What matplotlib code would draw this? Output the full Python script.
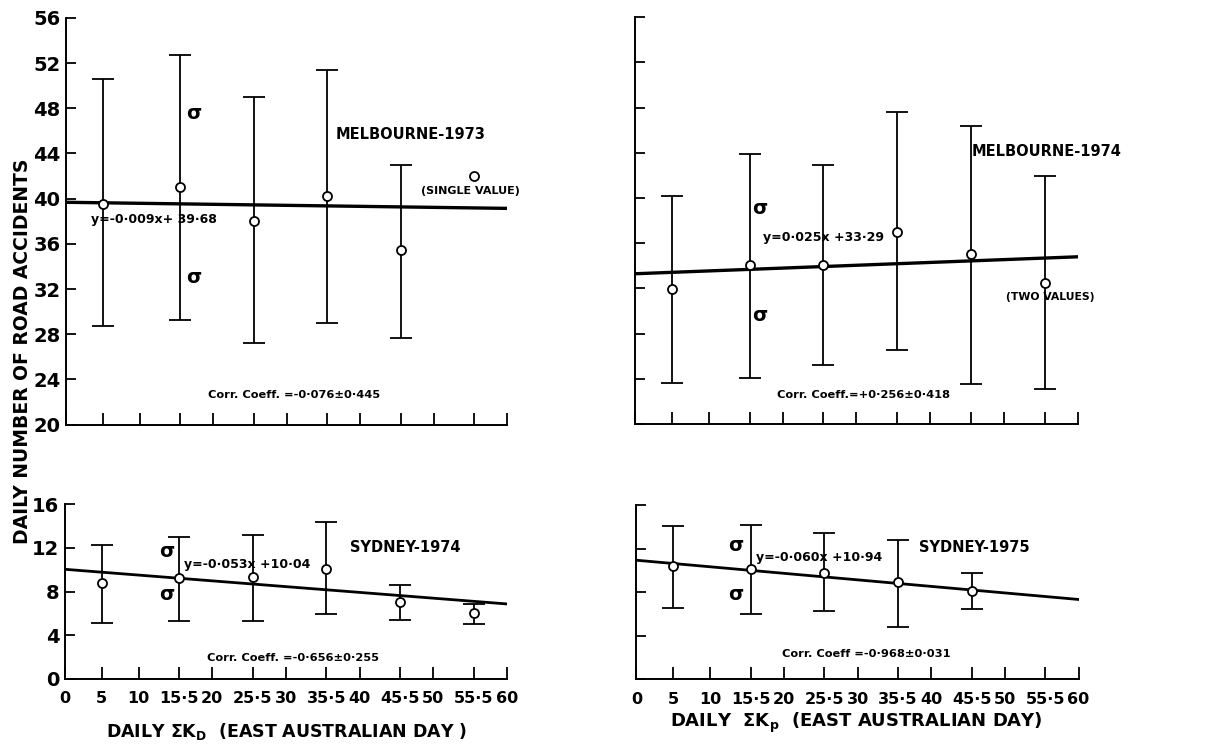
import matplotlib
matplotlib.use("Agg")
import matplotlib.pyplot as plt

plt.rcParams['font.family'] = ['DejaVu Sans']
plt.rcParams['font.weight'] = 'bold'
plt.rcParams['mathtext.default'] = 'regular'

# x positions (daily sum Kp bins)
kp = [5, 15.5, 25.5, 35.5, 45.5, 55.5]
xtick_vals = [0, 5, 10, 15.5, 20, 25.5, 30, 35.5, 40, 45.5, 50, 55.5, 60]
xtick_lbls = ['0', '5', '10', '15·5', '20', '25·5', '30', '35·5', '40', '45·5', '50', '55·5', '60']

# Melbourne 1973 (last bin is a single value, no sigma)
mel73_mean = [39.5, 41.0, 38.0, 40.2, 35.5, 42.0]
mel73_hi = [50.6, 52.7, 49.0, 51.4, 43.0]
mel73_lo = [28.7, 29.3, 27.2, 29.0, 27.7]
mel73_fit = (-0.009, 39.68)

# Melbourne 1974
mel74_mean = [31.9, 34.1, 34.1, 37.0, 35.0, 32.5]
mel74_hi = [40.2, 43.9, 42.9, 47.6, 46.4, 41.9]
mel74_lo = [23.6, 24.1, 25.2, 26.5, 23.5, 23.1]
mel74_fit = (0.025, 33.29)

# Sydney 1974
syd74_mean = [8.8, 9.2, 9.3, 10.1, 7.0, 6.0]
syd74_hi = [12.3, 13.0, 13.2, 14.4, 8.6, 6.9]
syd74_lo = [5.1, 5.3, 5.3, 5.9, 5.4, 5.0]
syd74_fit = (-0.053, 10.04)

# Sydney 1975 (no data in last bin)
syd75_mean = [10.4, 10.1, 9.8, 8.9, 8.1]
syd75_hi = [14.1, 14.2, 13.4, 12.8, 9.8]
syd75_lo = [6.6, 6.0, 6.3, 4.8, 6.5]
syd75_fit = (-0.060, 10.94)

fig = plt.figure(figsize=(12.24, 7.45), dpi=100)
ax_tl = fig.add_axes([0.054, 0.430, 0.3605, 0.546])
ax_tr = fig.add_axes([0.519, 0.431, 0.3615, 0.546])
ax_bl = fig.add_axes([0.053, 0.089, 0.3612, 0.234])
ax_br = fig.add_axes([0.520, 0.088, 0.3612, 0.234])


def panel(ax, mean, hi, lo, fit, ylim, yticks, ylabels, xlabels, lw_fit):
    n = len(hi)
    x = kp[:n]
    m = mean[:n]
    err = [[a - b for a, b in zip(m, lo)], [b - a for a, b in zip(m, hi)]]
    ax.errorbar(x, m, yerr=err, fmt='none', ecolor='black', elinewidth=1.3,
                capsize=8, capthick=1.3, zorder=2)
    xs = [0, 60]
    ax.plot(xs, [fit[0] * v + fit[1] for v in xs], color='black', lw=lw_fit, zorder=3)
    ax.plot(kp[:len(mean)], mean, 'o', ms=6.5, mfc='white', mec='black', mew=1.3, zorder=4)
    ax.set_xlim(0, 60)
    ax.set_ylim(*ylim)
    ax.set_xticks(xtick_vals)
    ax.set_yticks(yticks)
    if xlabels:
        ax.set_xticklabels(xtick_lbls, fontsize=11.5, fontweight='bold')
    else:
        ax.set_xticklabels([])
    if ylabels:
        ax.set_yticklabels([str(v) for v in yticks], fontsize=14, fontweight='bold')
    else:
        ax.set_yticklabels([])
    for s in ['top', 'right']:
        ax.spines[s].set_visible(False)
    for s in ['left', 'bottom']:
        ax.spines[s].set_linewidth(1.4)
    ax.tick_params(axis='x', direction='in', length=9, width=1.3, pad=9)
    ax.tick_params(axis='y', direction='in', length=7, width=1.3, pad=4)
    ax.patch.set_alpha(0)


panel(ax_tl, mel73_mean, mel73_hi, mel73_lo, mel73_fit, (20, 56), list(range(20, 57, 4)), True, False, 2.4)
panel(ax_tr, mel74_mean, mel74_hi, mel74_lo, mel74_fit, (20, 56), list(range(20, 57, 4)), False, False, 2.4)
panel(ax_bl, syd74_mean, syd74_hi, syd74_lo, syd74_fit, (0, 16), [0, 4, 8, 12, 16], True, True, 2.0)
panel(ax_br, syd75_mean, syd75_hi, syd75_lo, syd75_fit, (0, 16), [0, 4, 8, 12, 16], False, True, 2.0)

# annotations - Melbourne 1973
ax_tl.text(46.8, 45.7, 'MELBOURNE-1973', fontsize=10.5, ha='center', va='center')
ax_tl.text(55, 40.7, '(SINGLE VALUE)', fontsize=8, ha='center', va='center')
ax_tl.text(3.4, 38.2, 'y=-0·009x+ 39·68', fontsize=9, ha='left', va='center')
ax_tl.text(31, 22.6, 'Corr. Coeff. =-0·076±0·445', fontsize=8.2, ha='center', va='center')
ax_tl.text(17.4, 47.5, 'σ', fontsize=14, ha='center', va='center')
ax_tl.text(17.4, 33.0, 'σ', fontsize=14, ha='center', va='center')

# Melbourne 1974
ax_tr.text(55.8, 44.1, 'MELBOURNE-1974', fontsize=10.5, ha='center', va='center', clip_on=False)
ax_tr.text(56.3, 31.2, '(TWO VALUES)', fontsize=7.8, ha='center', va='center', clip_on=False)
ax_tr.text(17.3, 36.5, 'y=0·025x +33·29', fontsize=9, ha='left', va='center')
ax_tr.text(30.9, 22.6, 'Corr. Coeff.=+0·256±0·418', fontsize=8.2, ha='center', va='center')
ax_tr.text(16.9, 39.1, 'σ', fontsize=14, ha='center', va='center')
ax_tr.text(16.9, 29.6, 'σ', fontsize=14, ha='center', va='center')

# Sydney 1974
ax_bl.text(46.2, 12.0, 'SYDNEY-1974', fontsize=10.5, ha='center', va='center')
ax_bl.text(16.2, 10.5, 'y=-0·053x +10·04', fontsize=9, ha='left', va='center')
ax_bl.text(31.0, 1.9, 'Corr. Coeff. =-0·656±0·255', fontsize=8.2, ha='center', va='center')
ax_bl.text(13.8, 11.7, 'σ', fontsize=14, ha='center', va='center')
ax_bl.text(13.8, 7.7, 'σ', fontsize=14, ha='center', va='center')

# Sydney 1975
ax_br.text(45.9, 12.1, 'SYDNEY-1975', fontsize=10.5, ha='center', va='center')
ax_br.text(16.2, 11.2, 'y=-0·060x +10·94', fontsize=9, ha='left', va='center')
ax_br.text(31.2, 2.3, 'Corr. Coeff =-0·968±0·031', fontsize=8.2, ha='center', va='center')
ax_br.text(13.5, 12.3, 'σ', fontsize=14, ha='center', va='center')
ax_br.text(13.5, 7.8, 'σ', fontsize=14, ha='center', va='center')

# axis labels
fig.text(0.018, 0.529, 'DAILY NUMBER OF ROAD ACCIDENTS', rotation=90, fontsize=13.5,
         ha='center', va='center')
fig.text(0.234, 0.018, r'DAILY $\Sigma$K$_D$  (EAST AUSTRALIAN DAY )', fontsize=12.5,
         ha='center', va='center')
fig.text(0.700, 0.030, r'DAILY  $\Sigma$K$_p$  (EAST AUSTRALIAN DAY)', fontsize=13,
         ha='center', va='center')

fig.savefig('out.png', dpi=100)
